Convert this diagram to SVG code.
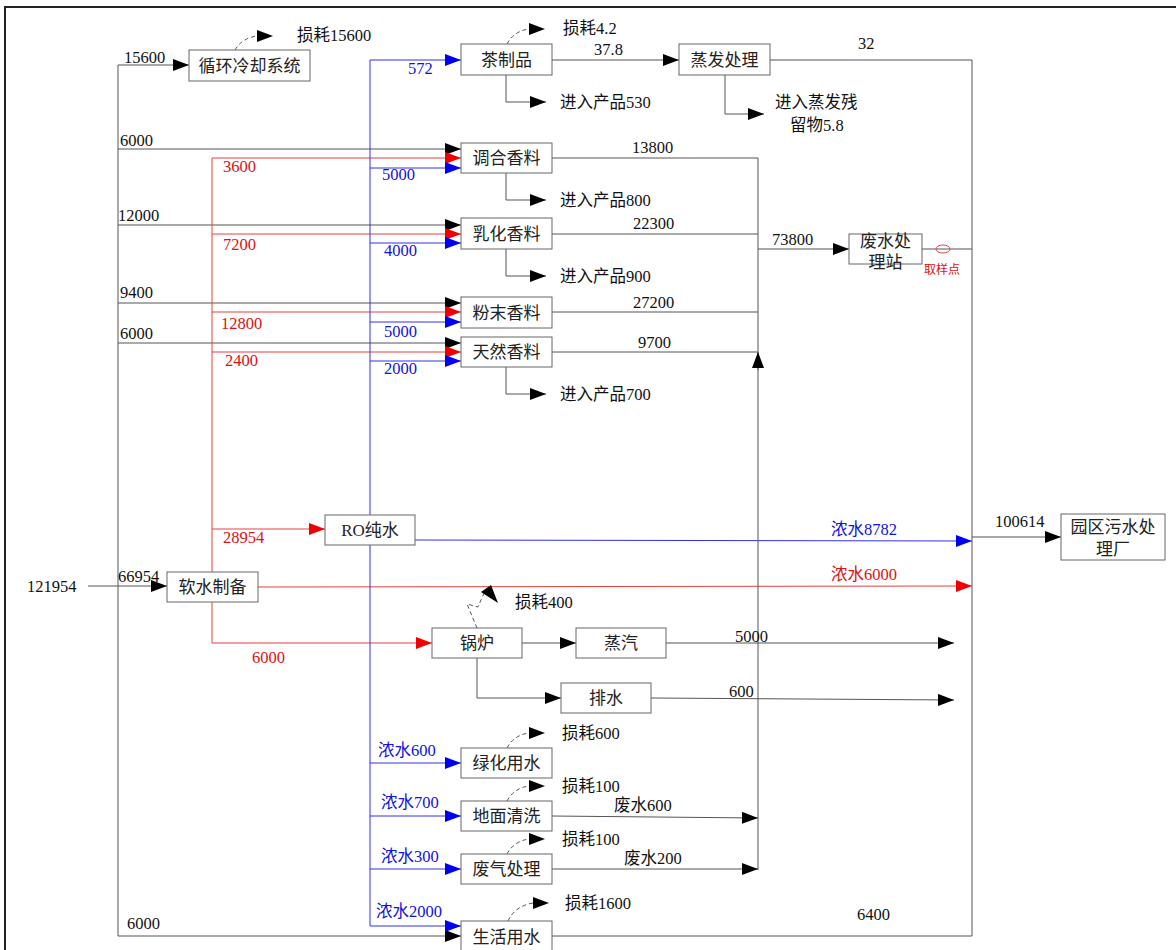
<svg xmlns="http://www.w3.org/2000/svg" width="1176" height="950" viewBox="0 0 1176 950">
<style>
text{font-family:"Liberation Serif","Noto Sans CJK SC",serif;font-size:16.5px;fill:#111}
.bt{font-size:17px;text-anchor:middle;fill:#222}
.r{fill:#e01010}
.b{fill:#1010e0}
.box{fill:#fff;stroke:#666;stroke-width:1}
.k{fill:none;stroke:#555;stroke-width:1}
.rl{fill:none;stroke:#e84040;stroke-width:1}
.bl{fill:none;stroke:#3030f0;stroke-width:1}
.d{fill:none;stroke:#555;stroke-width:1;stroke-dasharray:4,3}
.ka{marker-end:url(#ak)}
.ra{marker-end:url(#ar)}
.ba{marker-end:url(#ab)}
</style>
<defs>
<marker id="ak" markerUnits="userSpaceOnUse" markerWidth="17" markerHeight="13" refX="16" refY="6" orient="auto"><path d="M0,0 L16,6 L0,12 z" fill="#000"/></marker>
<marker id="ar" markerUnits="userSpaceOnUse" markerWidth="17" markerHeight="13" refX="16" refY="6" orient="auto"><path d="M0,0 L16,6 L0,12 z" fill="#f00000"/></marker>
<marker id="ab" markerUnits="userSpaceOnUse" markerWidth="17" markerHeight="13" refX="16" refY="6" orient="auto"><path d="M0,0 L16,6 L0,12 z" fill="#0000f0"/></marker>
<path id="lossArrow" d="M0,-6 L16,0 L0,6 z" fill="#000"/>
</defs>
<rect width="1176" height="950" fill="#fff"/>
<path d="M5,950 L5,7 L1176,7" fill="none" stroke="#222" stroke-width="2"/>

<g id="connectors">
<path class="k" d="M118,936 L118,65"/>
<line class="k ka" x1="118" y1="65" x2="189" y2="65"/>
<line class="k ka" x1="118" y1="149" x2="461" y2="149"/>
<line class="k ka" x1="118" y1="225" x2="461" y2="225"/>
<line class="k ka" x1="118" y1="303" x2="461" y2="303"/>
<line class="k ka" x1="118" y1="343" x2="461" y2="343"/>
<line class="k ka" x1="118" y1="936" x2="461" y2="936"/>
<line class="k ka" x1="88" y1="586" x2="167" y2="586"/>
<path class="rl" d="M212,158 L212,643"/>
<line class="rl ra" x1="212" y1="158" x2="461" y2="158"/>
<line class="rl ra" x1="212" y1="234" x2="461" y2="234"/>
<line class="rl ra" x1="212" y1="312" x2="461" y2="312"/>
<line class="rl ra" x1="212" y1="352" x2="461" y2="352"/>
<line class="rl ra" x1="212" y1="529" x2="325" y2="529"/>
<line class="rl ra" x1="212" y1="643" x2="432" y2="643"/>
<line class="rl ra" x1="258" y1="587" x2="972" y2="586"/>
<path class="bl" d="M370,926 L370,60"/>
<line class="bl ba" x1="370" y1="60" x2="461" y2="60"/>
<line class="bl ba" x1="370" y1="168" x2="461" y2="168"/>
<line class="bl ba" x1="370" y1="243" x2="461" y2="243"/>
<line class="bl ba" x1="370" y1="322" x2="461" y2="322"/>
<line class="bl ba" x1="370" y1="361" x2="461" y2="361"/>
<line class="bl ba" x1="370" y1="763" x2="461" y2="763"/>
<line class="bl ba" x1="370" y1="816" x2="461" y2="816"/>
<line class="bl ba" x1="370" y1="869" x2="461" y2="869"/>
<line class="bl ba" x1="370" y1="926" x2="461" y2="926"/>
<line class="bl ba" x1="415" y1="540" x2="972" y2="541"/>
<line class="k ka" x1="552" y1="60" x2="679" y2="60"/>
<path class="k" d="M770,60 L972,60 L972,936 L552,936"/>
<path class="k ka" d="M506,75 L506,102 L546,102"/>
<path class="k ka" d="M725,75 L725,114 L764,114"/>
<path class="k" d="M552,158 L758,158 L758,870"/>
<path class="k ka" d="M506,173 L506,200 L546,200"/>
<line class="k" x1="552" y1="234" x2="758" y2="234"/>
<path class="k ka" d="M506,249 L506,276 L546,276"/>
<line class="k" x1="552" y1="312" x2="758" y2="312"/>
<line class="k" x1="552" y1="352" x2="758" y2="352"/>
<path class="k ka" d="M506,367 L506,394 L546,394"/>
<line class="k ka" x1="758" y1="370" x2="758" y2="352"/>
<line class="k ka" x1="758" y1="249" x2="849" y2="249"/>
<line class="k" x1="921" y1="249" x2="972" y2="249"/>
<ellipse cx="943" cy="249" rx="7" ry="4" fill="none" stroke="#e84040" stroke-width="1"/>
<line class="k ka" x1="972" y1="537" x2="1061" y2="537"/>
<line class="k ka" x1="522" y1="643" x2="576" y2="643"/>
<path class="k ka" d="M477,658 L477,698 L561,698"/>
<line class="k ka" x1="666" y1="643" x2="954" y2="643"/>
<line class="k ka" x1="651" y1="698" x2="954" y2="700"/>
<line class="k ka" x1="552" y1="816" x2="758" y2="818"/>
<line class="k ka" x1="552" y1="869" x2="758" y2="869"/>
<path class="d" d="M235,50 Q242,38 257,36"/>
<use href="#lossArrow" x="257" y="36"/>
<path class="d" d="M507,44 Q514,31 529,29"/>
<use href="#lossArrow" x="529" y="29"/>
<path class="d" d="M477,628 L467,604 L478,607 L484,593"/>
<polygon points="481,592 491,585 498,603" fill="#000"/>
<path class="d" d="M507,748 Q514,735 529,733"/>
<use href="#lossArrow" x="529" y="733"/>
<path class="d" d="M507,801 Q514,788 529,786"/>
<use href="#lossArrow" x="529" y="786"/>
<path class="d" d="M507,854 Q514,841 529,839"/>
<use href="#lossArrow" x="529" y="839"/>
<path class="d" d="M508,921 Q515,906 533,903"/>
<use href="#lossArrow" x="533" y="903"/>
</g>

<g id="n-cooling"><rect class="box" x="189" y="50" width="121" height="31"/><text class="bt" x="249.5" y="72">循环冷却系统</text></g>
<g id="n-tea"><rect class="box" x="461" y="44" width="91" height="31"/><text class="bt" x="506.5" y="66">茶制品</text></g>
<g id="n-evap"><rect class="box" x="679" y="44" width="91" height="31"/><text class="bt" x="724.5" y="66">蒸发处理</text></g>
<g id="n-blend"><rect class="box" x="461" y="143" width="91" height="30"/><text class="bt" x="506.5" y="164">调合香料</text></g>
<g id="n-emul"><rect class="box" x="461" y="218" width="91" height="31"/><text class="bt" x="506.5" y="240">乳化香料</text></g>
<g id="n-powder"><rect class="box" x="461" y="297" width="91" height="31"/><text class="bt" x="506.5" y="319">粉末香料</text></g>
<g id="n-natural"><rect class="box" x="461" y="337" width="91" height="30"/><text class="bt" x="506.5" y="358">天然香料</text></g>
<g id="n-wwtp"><rect class="box" x="849" y="234" width="73" height="30"/><text class="bt" x="885.5" y="247">废水处</text><text class="bt" x="885.5" y="268">理站</text></g>
<g id="n-park"><rect class="box" x="1061" y="514" width="104" height="46"/><text class="bt" x="1113" y="533">园区污水处</text><text class="bt" x="1113" y="555">理厂</text></g>
<g id="n-ro"><rect class="box" x="325" y="515" width="90" height="30"/><text class="bt" x="370" y="536">RO纯水</text></g>
<g id="n-soft"><rect class="box" x="167" y="572" width="91" height="30"/><text class="bt" x="212.5" y="593">软水制备</text></g>
<g id="n-boiler"><rect class="box" x="432" y="628" width="90" height="30"/><text class="bt" x="477" y="649">锅炉</text></g>
<g id="n-steam"><rect class="box" x="576" y="628" width="90" height="30"/><text class="bt" x="621" y="649">蒸汽</text></g>
<g id="n-drain"><rect class="box" x="561" y="683" width="90" height="30"/><text class="bt" x="606" y="704">排水</text></g>
<g id="n-green"><rect class="box" x="461" y="748" width="91" height="30"/><text class="bt" x="506.5" y="769">绿化用水</text></g>
<g id="n-floor"><rect class="box" x="461" y="801" width="91" height="30"/><text class="bt" x="506.5" y="822">地面清洗</text></g>
<g id="n-gas"><rect class="box" x="461" y="854" width="91" height="30"/><text class="bt" x="506.5" y="875">废气处理</text></g>
<g id="n-life"><rect class="box" x="461" y="921" width="91" height="32"/><text class="bt" x="506.5" y="943">生活用水</text></g>

<g id="labels">
<text x="297" y="41">损耗15600</text>
<text x="124" y="63">15600</text>
<text x="120" y="146">6000</text>
<text x="118" y="221">12000</text>
<text x="120" y="298">9400</text>
<text x="120" y="339">6000</text>
<text x="127" y="929">6000</text>
<text x="27" y="592">121954</text>
<text x="118" y="582">66954</text>
<text class="r" x="223" y="172">3600</text>
<text class="r" x="223" y="250">7200</text>
<text class="r" x="221" y="329">12800</text>
<text class="r" x="225" y="366">2400</text>
<text class="r" x="223" y="543">28954</text>
<text class="r" x="252" y="663">6000</text>
<text class="b" x="408" y="74">572</text>
<text class="b" x="382" y="180">5000</text>
<text class="b" x="384" y="256">4000</text>
<text class="b" x="384" y="337">5000</text>
<text class="b" x="384" y="374">2000</text>
<text class="b" x="378" y="756">浓水600</text>
<text class="b" x="381" y="808">浓水700</text>
<text class="b" x="381" y="862">浓水300</text>
<text class="b" x="376" y="917">浓水2000</text>
<text class="b" x="831" y="535">浓水8782</text>
<text class="r" x="831" y="580">浓水6000</text>
<text x="563" y="34">损耗4.2</text>
<text x="594" y="55">37.8</text>
<text x="858" y="49">32</text>
<text x="560" y="108">进入产品530</text>
<text x="775" y="108">进入蒸发残</text>
<text x="790" y="131">留物5.8</text>
<text x="632" y="153">13800</text>
<text x="560" y="206">进入产品800</text>
<text x="633" y="229">22300</text>
<text x="560" y="282">进入产品900</text>
<text x="633" y="308">27200</text>
<text x="638" y="348">9700</text>
<text x="560" y="400">进入产品700</text>
<text x="772" y="245">73800</text>
<text class="r" x="924" y="274" style="font-size:12px">取样点</text>
<text x="995" y="527">100614</text>
<text x="515" y="608">损耗400</text>
<text x="735" y="642">5000</text>
<text x="729" y="697">600</text>
<text x="562" y="739">损耗600</text>
<text x="562" y="792">损耗100</text>
<text x="614" y="811">废水600</text>
<text x="562" y="845">损耗100</text>
<text x="624" y="864">废水200</text>
<text x="565" y="909">损耗1600</text>
<text x="857" y="920">6400</text>
</g>
</svg>
